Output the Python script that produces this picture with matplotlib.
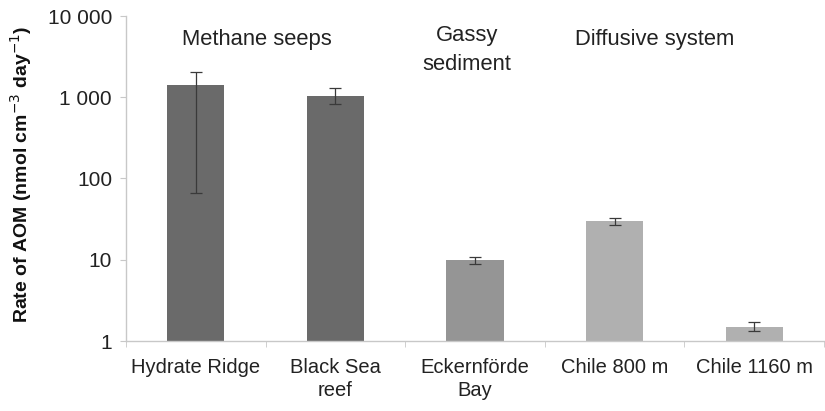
import matplotlib
matplotlib.use("Agg")
import matplotlib.pyplot as plt
import matplotlib.transforms as mtransforms
import numpy as np

plt.rcParams['font.family'] = ['Liberation Sans', 'DejaVu Sans']

sites = ["Hydrate Ridge", "Black Sea\nreef", "Eckernförde\nBay", "Chile 800 m", "Chile 1160 m"]
rates = [1400, 1050, 10, 30, 1.5]
err_low = [1334, 230, 1.2, 3.0, 0.18]
err_high = [640, 250, 0.9, 2.5, 0.2]
bar_colors = ["#6a6a6a", "#6a6a6a", "#959595", "#b0b0b0", "#b0b0b0"]
groups = ["Methane seeps", "Gassy", "sediment", "Diffusive system"]
group_x = [0.44, 1.94, 1.94, 3.29]
group_y = [40, 35, 65, 40]  # pixels from top of figure
yticks = [1, 10, 100, 1000, 10000]
ytick_labels = ["1", "10", "100", "1 000", "10 000"]

W, H = 825, 411
fig = plt.figure(figsize=(W / 100, H / 100), dpi=100)
ax = fig.add_axes([126 / W, 1 - 341 / H, 698 / W, 325 / H])

x = np.arange(len(sites))
ax.bar(x, rates, width=0.41, color=bar_colors, zorder=2)
ax.errorbar(x, rates, yerr=[err_low, err_high], fmt="none", ecolor="#3a3a3a",
            elinewidth=0.9, capsize=4, capthick=0.9, zorder=3)

ax.set_yscale("log")
ax.set_ylim(1, 10000)
ax.set_xlim(-0.5, 4.5)
ax.set_yticks(yticks)
ax.set_yticklabels(ytick_labels, fontsize=15, color="#222222")
ax.minorticks_off()
ax.set_xticks(x)
ax.set_xticklabels(sites, fontsize=14.5, color="#222222", linespacing=1.3)
ax.tick_params(axis="x", length=0, pad=12)
ax.set_xticks(np.arange(-0.5, 5, 1.0), minor=True)
ax.tick_params(axis="x", which="minor", length=4, color="#c8c8c8")
ax.tick_params(axis="y", length=4, color="#c8c8c8", pad=6)

for side in ["top", "right"]:
    ax.spines[side].set_visible(False)
for side in ["left", "bottom"]:
    ax.spines[side].set_color("#c8c8c8")
    ax.spines[side].set_linewidth(1.0)

ax.set_ylabel("Rate of AOM (nmol cm$^{-3}$ day$^{-1}$)", fontsize=14,
              fontweight="bold", color="#111111")
ax.yaxis.set_label_coords(-0.1325, 0.512)

# group headings: x in data units, y in figure pixels from the top
heading_tf = mtransforms.blended_transform_factory(ax.transData, fig.transFigure)
for label, gx, gy in zip(groups, group_x, group_y):
    ax.text(gx, 1 - gy / H, label, ha="center", va="center", fontsize=15.8,
            color="#222222", transform=heading_tf)

fig.savefig("out.png", dpi=100)
